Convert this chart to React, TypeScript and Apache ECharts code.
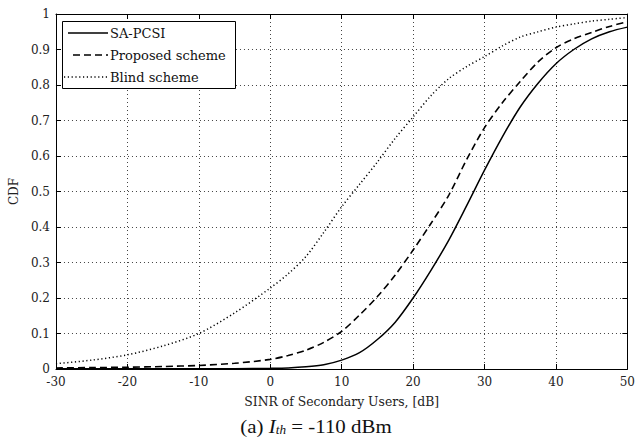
import React, { useEffect, useRef } from "react";
import * as echarts from "echarts";

const xValues = [-30, -25, -20, -15, -10, -5, 0, 2.5, 5, 7.5, 10, 12.5, 15, 17.5, 20, 22.5, 25, 27.5, 30, 32.5, 35, 37.5, 40, 42.5, 45, 47.5, 50];
const saPcsi = [0.001, 0.001, 0.001, 0.001, 0.001, 0.001, 0.002, 0.003, 0.006, 0.012, 0.025, 0.046, 0.083, 0.132, 0.2, 0.278, 0.363, 0.46, 0.56, 0.654, 0.738, 0.805, 0.86, 0.9, 0.93, 0.95, 0.963];
const proposed = [0.003, 0.004, 0.005, 0.007, 0.01, 0.016, 0.027, 0.038, 0.053, 0.075, 0.106, 0.152, 0.204, 0.265, 0.335, 0.41, 0.49, 0.59, 0.68, 0.75, 0.81, 0.865, 0.905, 0.93, 0.948, 0.965, 0.978];
const blind = [0.015, 0.025, 0.04, 0.065, 0.1, 0.158, 0.228, 0.268, 0.317, 0.385, 0.457, 0.52, 0.583, 0.65, 0.71, 0.77, 0.818, 0.852, 0.88, 0.91, 0.935, 0.95, 0.963, 0.972, 0.98, 0.985, 0.99];
const seriesNames = ["SA-PCSI", "Proposed scheme", "Blind scheme"];

const AXFONT = "DejaVu Serif";
const CAPFONT = "Liberation Serif";
const TXT = "#222";
const DASH: number[] = [7, 4];
const DOT: number[] = [1.2, 2.6];

export default function App() {
  const ref = useRef<HTMLDivElement>(null);
  useEffect(() => {
    if (!ref.current) return;
    const chart = echarts.init(ref.current, undefined, { renderer: "svg" });
    const pairs = (ys: number[]) => xValues.map((x, i) => [x, ys[i]]);
    const gridLine = { show: true, lineStyle: { color: "#444", type: [1, 3] as any, width: 1 } };
    const baseX = {
      type: "value" as const,
      min: -30,
      max: 50,
      interval: 10,
      axisLine: { show: true, onZero: false, lineStyle: { color: "#000", width: 1 } },
      axisTick: { show: true, inside: true, length: 5, lineStyle: { color: "#000" } },
    };
    const baseY = {
      type: "value" as const,
      min: 0,
      max: 1,
      interval: 0.1,
      axisLine: { show: true, onZero: false, lineStyle: { color: "#000", width: 1 } },
      axisTick: { show: true, inside: true, length: 5, lineStyle: { color: "#000" } },
    };
    const lineSeries = (name: string, ys: number[], type: any, width: number) => ({
      name,
      type: "line",
      data: pairs(ys),
      smooth: 0.3,
      showSymbol: false,
      symbol: "none",
      lineStyle: { color: "#000", width, type },
      itemStyle: { color: "#000" },
    });
    const legendRows = [
      { y: 33, x0: 68, type: "solid", width: 1.5 },
      { y: 55, x0: 73, type: DASH, width: 1.6 },
      { y: 77, x0: 64, type: DOT, width: 1.3 },
    ];
    const legendGraphics: any[] = [
      {
        type: "rect",
        shape: { x: 62.5, y: 21.5, width: 173, height: 67 },
        style: { fill: "#fff", stroke: "#000", lineWidth: 1 },
        z: 100,
      },
    ];
    legendRows.forEach((r, i) => {
      legendGraphics.push({
        type: "line",
        shape: { x1: r.x0, y1: r.y, x2: 108, y2: r.y },
        style: { stroke: "#000", lineWidth: r.width, lineDash: r.type === "solid" ? null : r.type },
        z: 101,
      });
      legendGraphics.push({
        type: "text",
        x: 110,
        y: r.y,
        style: {
          text: seriesNames[i],
          fontFamily: AXFONT,
          fontSize: 13,
          fill: "#111",
          verticalAlign: "middle",
          align: "left",
        },
        z: 101,
      });
    });
    chart.setOption({
      animation: false,
      backgroundColor: "#fff",
      textStyle: { fontFamily: AXFONT },
      grid: { left: 54, right: 8, top: 14, bottom: 78, containLabel: false },
      xAxis: [
        {
          ...baseX,
          position: "bottom",
          splitLine: gridLine,
          axisLabel: { margin: 7, color: TXT, fontFamily: AXFONT, fontSize: 12, lineHeight: 11 },
          name: "SINR of Secondary Users, [dB]",
          nameLocation: "middle",
          nameGap: 26,
          nameTextStyle: { color: TXT, fontFamily: AXFONT, fontSize: 12.4 },
        },
        { ...baseX, position: "top", splitLine: { show: false }, axisLabel: { show: false } },
      ],
      yAxis: [
        {
          ...baseY,
          position: "left",
          splitLine: gridLine,
          axisLabel: {
            margin: 6,
            color: TXT,
            fontFamily: AXFONT,
            fontSize: 12,
            lineHeight: 11,
            formatter: (v: number) => String(Math.round(v * 10) / 10),
          },
          name: "CDF",
          nameLocation: "middle",
          nameGap: 34,
          nameRotate: 90,
          nameTextStyle: { color: TXT, fontFamily: AXFONT, fontSize: 12 },
        },
        { ...baseY, position: "right", splitLine: { show: false }, axisLabel: { show: false } },
      ],
      series: [
        lineSeries(seriesNames[0], saPcsi, "solid", 1.5),
        lineSeries(seriesNames[1], proposed, DASH, 1.6),
        lineSeries(seriesNames[2], blind, DOT, 1.5),
      ],
      graphic: [
        ...legendGraphics,
        {
          type: "text",
          x: 316,
          y: 425,
          scaleX: 1.1,
          style: {
            text: "{n|(a) }{i|I}{s|th}{n| = -110 dBm}",
            align: "center",
            verticalAlign: "middle",
            rich: {
              n: { fontFamily: CAPFONT, fontSize: 19, fill: "#111", verticalAlign: "bottom", lineHeight: 22 },
              i: { fontFamily: CAPFONT, fontSize: 19, fontStyle: "italic", fill: "#111", verticalAlign: "bottom", lineHeight: 22 },
              s: { fontFamily: CAPFONT, fontSize: 12, fontStyle: "italic", fill: "#111", verticalAlign: "bottom", lineHeight: 22, padding: [8, 0, 0, 0] },
            },
          },
        },
      ],
    });
    return () => chart.dispose();
  }, []);
  return <div ref={ref} style={{ width: 638, height: 447, position: "absolute", left: 0, top: 0 }} />;
}
